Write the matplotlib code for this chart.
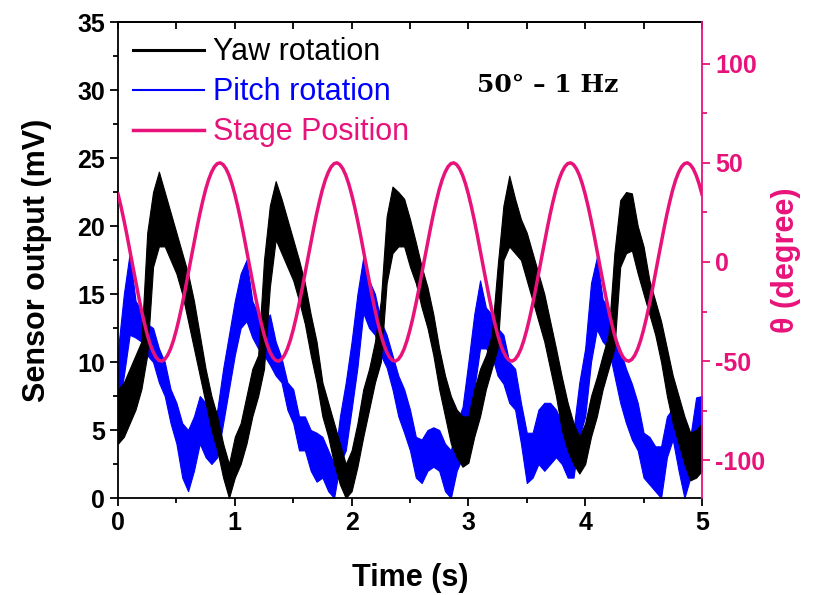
import numpy as np
import matplotlib
matplotlib.use("Agg")
import matplotlib.pyplot as plt
from matplotlib.lines import Line2D
from matplotlib.ticker import MultipleLocator

# tiempo (s), muestreado cada 0.05 s
tiempo = [round(0.05 * i, 2) for i in range(101)]

# Yaw rotation: limites inferior / superior de la banda de ruido (mV)
yaw_bajo = [4.0, 4.5, 5.5, 6.5, 8.0, 10.5, 17.0, 18.5, 18.5, 17.5,
            16.5, 15.0, 13.0, 11.0, 9.0, 7.0, 5.0, 3.5, 1.5, 0.0,
            1.5, 2.5, 4.0, 6.0, 7.5, 9.5, 15.5, 19.0, 18.0, 17.0,
            16.0, 14.5, 12.8, 10.5, 8.5, 6.0, 4.5, 2.5, 1.0, 0.0,
            0.5, 2.3, 4.5, 6.5, 8.5, 10.0, 15.8, 18.0, 18.5, 18.5,
            17.0, 15.8, 14.0, 12.5, 10.5, 8.0, 6.0, 4.0, 3.0, 2.3,
            2.6, 4.5, 6.0, 8.0, 9.5, 11.0, 17.5, 18.5, 18.0, 17.5,
            16.0, 14.5, 13.0, 11.5, 9.5, 7.5, 5.0, 3.5, 2.5, 1.8,
            2.5, 4.5, 6.0, 8.0, 9.5, 11.0, 17.0, 18.0, 18.2, 16.5,
            15.0, 13.5, 12.0, 10.0, 7.5, 5.5, 4.0, 2.5, 1.3, 1.5, 2.0]
yaw_alto = [8.0, 8.5, 9.5, 10.5, 11.5, 19.5, 22.5, 24.0, 22.5, 21.0,
            19.5, 18.0, 16.5, 14.5, 12.0, 9.5, 7.5, 6.0, 4.0, 2.5,
            4.5, 5.5, 7.5, 9.5, 10.5, 17.5, 21.5, 23.3, 22.0, 20.5,
            19.0, 17.5, 15.8, 13.5, 11.5, 8.5, 7.0, 5.5, 4.0, 2.5,
            3.5, 5.5, 8.0, 9.5, 11.5, 14.5, 20.7, 22.9, 22.5, 22.0,
            20.5, 18.8, 17.0, 15.5, 13.5, 11.0, 9.0, 7.5, 6.5, 6.0,
            6.0, 8.0, 9.5, 10.5, 12.0, 17.0, 21.5, 23.7, 22.0, 20.5,
            19.5, 18.0, 16.5, 15.0, 13.0, 11.0, 8.9, 7.0, 5.5, 4.5,
            5.5, 7.5, 8.9, 10.5, 12.0, 18.0, 21.9, 22.5, 22.4, 20.0,
            18.5, 16.0, 14.5, 13.0, 11.0, 9.0, 7.5, 6.0, 4.8, 5.0, 5.5]

# Pitch rotation: limites inferior / superior (mV)
pitch_bajo = [6.5, 9.0, 12.0, 11.8, 11.5, 10.5, 10.0, 8.5, 7.5, 5.5,
              4.0, 1.5, 0.5, 2.0, 4.0, 3.0, 2.5, 3.0, 5.5, 8.0,
              10.5, 12.5, 13.0, 11.8, 11.0, 10.5, 9.8, 9.0, 8.5, 6.5,
              5.5, 3.5, 3.5, 2.0, 1.2, 1.5, 0.5, 0.0, 2.5, 3.5,
              6.5, 9.6, 13.6, 12.5, 12.0, 10.5, 9.6, 8.0, 6.0, 4.8,
              3.5, 1.5, 1.1, 2.0, 2.3, 2.0, 0.5, 0.0, 2.0, 3.0,
              5.0, 8.0, 11.0, 11.0, 10.5, 9.0, 8.4, 7.0, 6.5, 4.0,
              1.1, 1.5, 2.5, 2.0, 2.5, 3.0, 2.5, 1.5, 1.5, 4.5,
              6.0, 10.0, 12.4, 11.5, 11.0, 9.0, 7.0, 5.5, 4.3, 3.5,
              1.5, 1.0, 0.5, 0.0, 3.0, 4.3, 2.0, 0.0, 1.5, 4.0, 4.5]
pitch_alto = [10.9, 15.0, 18.0, 14.5, 13.8, 12.8, 12.5, 11.0, 10.0, 8.0,
              7.0, 5.5, 5.0, 6.0, 7.5, 7.0, 6.0, 6.5, 9.5, 12.0,
              14.5, 16.5, 17.5, 14.5, 13.5, 13.0, 13.5, 11.5, 10.3, 8.5,
              8.0, 6.0, 6.0, 5.0, 4.8, 4.5, 3.5, 2.5, 6.0, 8.5,
              11.5, 15.0, 17.7, 16.0, 15.0, 13.0, 12.0, 10.5, 9.0, 8.0,
              6.5, 4.5, 4.3, 5.0, 5.2, 5.0, 4.0, 3.5, 5.5, 6.7,
              10.0, 13.5, 16.0, 14.0, 13.5, 12.5, 12.0, 10.0, 9.5, 7.0,
              4.8, 4.8, 6.5, 7.0, 7.0, 6.5, 5.5, 4.8, 5.0, 8.5,
              11.0, 15.8, 17.7, 14.6, 14.0, 12.0, 10.9, 9.5, 8.4, 7.0,
              4.8, 4.5, 3.8, 3.8, 6.0, 6.6, 5.0, 3.8, 4.5, 7.4, 7.5]

# posicion de la plataforma (grados), muestreada cada 0.025 s
tiempo_pos = [round(0.025 * i, 3) for i in range(201)]
posicion = [
    34.2, 28.1, 21.3, 14.0, 6.3, -1.6, -9.4, -16.9, -24.1, -30.6, -36.5, -41.4, -45.2, -48.0, -49.6, -50.0, -49.1, -47.0, -43.8, -39.5,
    -34.2, -28.1, -21.3, -14.0, -6.3, 1.6, 9.4, 16.9, 24.1, 30.6, 36.5, 41.4, 45.2, 48.0, 49.6, 50.0, 49.1, 47.0, 43.8, 39.5,
    34.2, 28.1, 21.3, 14.0, 6.3, -1.6, -9.4, -16.9, -24.1, -30.6, -36.5, -41.4, -45.2, -48.0, -49.6, -50.0, -49.1, -47.0, -43.8, -39.5,
    -34.2, -28.1, -21.3, -14.0, -6.3, 1.6, 9.4, 16.9, 24.1, 30.6, 36.5, 41.4, 45.2, 48.0, 49.6, 50.0, 49.1, 47.0, 43.8, 39.5,
    34.2, 28.1, 21.3, 14.0, 6.3, -1.6, -9.4, -16.9, -24.1, -30.6, -36.5, -41.4, -45.2, -48.0, -49.6, -50.0, -49.1, -47.0, -43.8, -39.5,
    -34.2, -28.1, -21.3, -14.0, -6.3, 1.6, 9.4, 16.9, 24.1, 30.6, 36.5, 41.4, 45.2, 48.0, 49.6, 50.0, 49.1, 47.0, 43.8, 39.5,
    34.2, 28.1, 21.3, 14.0, 6.3, -1.6, -9.4, -16.9, -24.1, -30.6, -36.5, -41.4, -45.2, -48.0, -49.6, -50.0, -49.1, -47.0, -43.8, -39.5,
    -34.2, -28.1, -21.3, -14.0, -6.3, 1.6, 9.4, 16.9, 24.1, 30.6, 36.5, 41.4, 45.2, 48.0, 49.6, 50.0, 49.1, 47.0, 43.8, 39.5,
    34.2, 28.1, 21.3, 14.0, 6.3, -1.6, -9.4, -16.9, -24.1, -30.6, -36.5, -41.4, -45.2, -48.0, -49.6, -50.0, -49.1, -47.0, -43.8, -39.5,
    -34.2, -28.1, -21.3, -14.0, -6.3, 1.6, 9.4, 16.9, 24.1, 30.6, 36.5, 41.4, 45.2, 48.0, 49.6, 50.0, 49.1, 47.0, 43.8, 39.5,
    34.2]

etiquetas = ["Yaw rotation", "Pitch rotation", "Stage Position"]
ROSA = "#E8137A"
AZUL = "#0000FF"

plt.rcParams['font.family'] = ['Liberation Sans', 'DejaVu Sans']
plt.rcParams['axes.unicode_minus'] = False

fig = plt.figure(figsize=(8.15, 5.95), dpi=100)
ax = fig.add_axes([0.1448, 0.163, 0.7165, 0.800])

ax.fill_between(tiempo, pitch_bajo, pitch_alto, color=AZUL, lw=0.8, zorder=2)
ax.fill_between(tiempo, yaw_bajo, yaw_alto, color="black", lw=0.8, zorder=3)

ax.set_xlim(0, 5)
ax.set_ylim(0, 35)
ax.xaxis.set_major_locator(MultipleLocator(1))
ax.xaxis.set_minor_locator(MultipleLocator(0.5))
ax.yaxis.set_major_locator(MultipleLocator(5))
ax.yaxis.set_minor_locator(MultipleLocator(2.5))
ax.tick_params(which='major', direction='out', length=6, width=1.3, labelsize=18)
ax.tick_params(which='minor', direction='out', length=3.5, width=1.3)
for lab in ax.get_xticklabels() + ax.get_yticklabels():
    lab.set_fontweight('bold')
for s in ['left', 'bottom', 'top']:
    ax.spines[s].set_linewidth(1.3)
ax.spines['right'].set_visible(False)

arriba = ax.secondary_xaxis('top')
arriba.xaxis.set_major_locator(MultipleLocator(0.5))
arriba.tick_params(direction='in', length=5, width=1.3, labeltop=False)
arriba.spines['top'].set_linewidth(1.3)

ax.set_xlabel("Time (s)", fontsize=22, fontweight='bold', labelpad=20)
ax.set_ylabel("Sensor output (mV)", fontsize=22, fontweight='bold', labelpad=18)

ax2 = ax.twinx()
ax2.plot(tiempo_pos, posicion, color=ROSA, lw=2.5, zorder=4)
ax2.set_ylim(-119, 121)
ax2.yaxis.set_major_locator(MultipleLocator(50))
ax2.yaxis.set_minor_locator(MultipleLocator(25))
ax2.tick_params(which='major', direction='out', length=6, width=1.3,
                colors=ROSA, labelsize=18)
ax2.tick_params(which='minor', direction='out', length=3.5, width=1.3, colors=ROSA)
for lab in ax2.get_yticklabels():
    lab.set_fontweight('bold')
ax2.spines['right'].set_color(ROSA)
ax2.spines['right'].set_linewidth(1.3)
for s in ['left', 'bottom', 'top']:
    ax2.spines[s].set_visible(False)
ax2.set_ylabel("θ (degree)", fontsize=22, fontweight='bold', color=ROSA, labelpad=4)

manijas = [Line2D([], [], color='black', lw=2.2),
           Line2D([], [], color=AZUL, lw=1.5),
           Line2D([], [], color=ROSA, lw=2.5)]
leyenda = ax2.legend(manijas, etiquetas, loc='upper left', bbox_to_anchor=(0.0, 1.0),
                     frameon=False, fontsize=22, handlelength=2.3, handletextpad=0.3,
                     labelspacing=0.33, borderpad=0.3, borderaxespad=0.2)
for texto, col in zip(leyenda.get_texts(), ['black', AZUL, ROSA]):
    texto.set_color(col)

ax2.text(3.68, 89, "50° – 1 Hz", fontsize=18, fontweight='bold',
         family=['DejaVu Serif'], ha='center', va='center')

fig.savefig("out.png", dpi=100)
plt.close(fig)
